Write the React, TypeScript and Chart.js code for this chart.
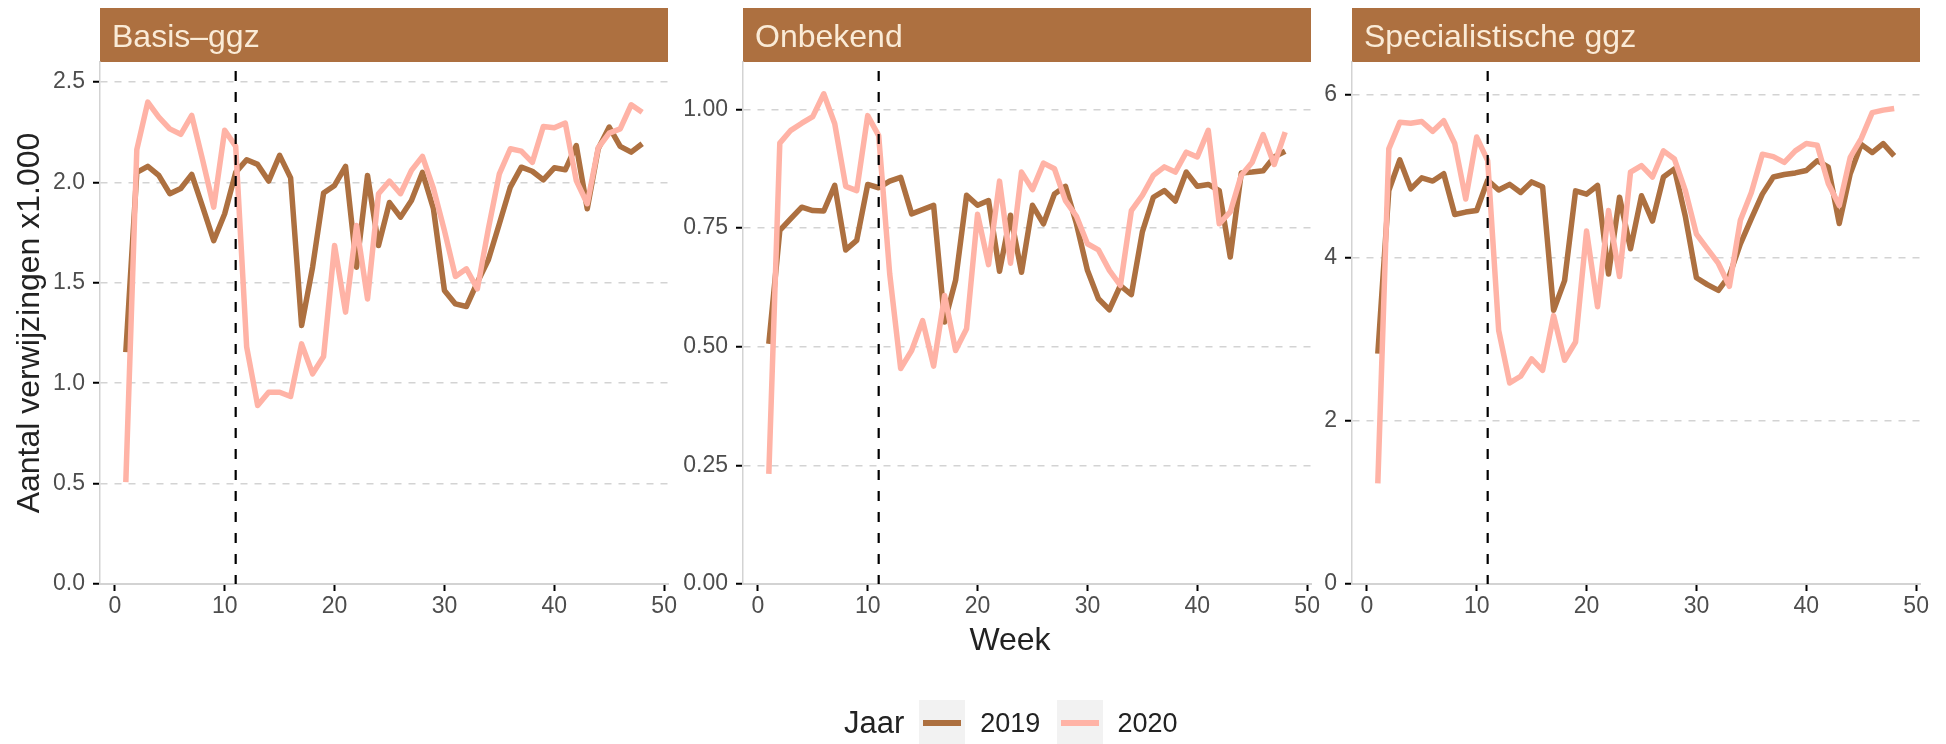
import React, { useEffect, useRef } from "react";
import { Chart, registerables } from "chart.js";

Chart.register(...registerables);

const FONT = '"Liberation Sans", Arial, Helvetica, sans-serif';
Chart.defaults.font.family = FONT;

// ---------- data ----------
const weeks = [
  1, 2, 3, 4, 5, 6, 7, 8, 9, 10, 11, 12, 13, 14, 15, 16, 17, 18, 19, 20, 21, 22, 23, 24,
  25, 26, 27, 28, 29, 30, 31, 32, 33, 34, 35, 36, 37, 38, 39, 40, 41, 42, 43, 44, 45, 46, 47, 48,
];
const years = ["2019", "2020"];
const markerWeek = 11;
const xTicks = [0, 10, 20, 30, 40, 50];

const basis2019 = [
  1.155, 2.05, 2.08, 2.035, 1.944, 1.97, 2.04, 1.877, 1.71, 1.844, 2.05, 2.113, 2.09, 2.007, 2.135, 2.023,
  1.287, 1.578, 1.947, 1.985, 2.08, 1.578, 2.035, 1.686, 1.9, 1.827, 1.91, 2.05, 1.869, 1.462, 1.395, 1.382,
  1.503, 1.615, 1.794, 1.977, 2.076, 2.056, 2.013, 2.073, 2.063, 2.184, 1.869, 2.168, 2.276, 2.18, 2.151, 2.193,
];
const basis2020 = [
  0.507, 2.163, 2.4, 2.326, 2.267, 2.24, 2.334, 2.11, 1.877, 2.26, 2.18, 1.18, 0.889, 0.955, 0.955, 0.934,
  1.196, 1.047, 1.133, 1.686, 1.354, 1.786, 1.42, 1.944, 2.007, 1.944, 2.06, 2.13, 1.97, 1.76, 1.532, 1.57,
  1.47, 1.77, 2.043, 2.168, 2.156, 2.1, 2.279, 2.272, 2.296, 2.01, 1.894, 2.173, 2.246, 2.267, 2.387, 2.35,
];
const onbekend2019 = [
  0.506, 0.745, 0.77, 0.794, 0.787, 0.786, 0.84, 0.704, 0.724, 0.842, 0.835, 0.849, 0.857, 0.78, 0.789, 0.798,
  0.552, 0.64, 0.819, 0.798, 0.808, 0.659, 0.777, 0.657, 0.798, 0.759, 0.822, 0.838, 0.759, 0.661, 0.601, 0.578,
  0.629, 0.61, 0.742, 0.815, 0.829, 0.807, 0.868, 0.838, 0.842, 0.829, 0.689, 0.866, 0.868, 0.871, 0.9, 0.912,
];
const onbekend2020 = [
  0.232, 0.929, 0.956, 0.971, 0.985, 1.033, 0.97, 0.838, 0.829, 0.987, 0.945, 0.654, 0.454, 0.492, 0.555, 0.459,
  0.608, 0.492, 0.538, 0.779, 0.673, 0.849, 0.676, 0.868, 0.831, 0.887, 0.875, 0.808, 0.775, 0.717, 0.704, 0.661,
  0.629, 0.787, 0.819, 0.861, 0.879, 0.868, 0.91, 0.9, 0.956, 0.759, 0.784, 0.861, 0.889, 0.947, 0.884, 0.952,
];
const spec2019 = [
  2.824, 4.824, 5.2, 4.845, 4.98, 4.94, 5.03, 4.53, 4.56, 4.58, 4.95, 4.83, 4.9, 4.8, 4.93, 4.87,
  3.355, 3.72, 4.82, 4.78, 4.886, 3.8, 4.743, 4.11, 4.76, 4.45, 4.99, 5.09, 4.5, 3.755, 3.67, 3.6,
  3.78, 4.17, 4.48, 4.78, 4.99, 5.02, 5.04, 5.07, 5.19, 5.11, 4.42, 5.03, 5.39, 5.29, 5.4, 5.25,
];
const spec2020 = [
  1.233, 5.335, 5.66, 5.65, 5.67, 5.55, 5.68, 5.4, 4.72, 5.48, 5.19, 3.11, 2.465, 2.547, 2.76, 2.62,
  3.29, 2.743, 2.967, 4.327, 3.4, 4.58, 3.77, 5.05, 5.13, 4.99, 5.31, 5.21, 4.82, 4.29, 4.11, 3.93,
  3.65, 4.46, 4.8, 5.27, 5.24, 5.17, 5.31, 5.4, 5.38, 4.91, 4.64, 5.23, 5.46, 5.78, 5.81, 5.83,
];

const basisTicks = [0, 0.5, 1, 1.5, 2, 2.5];
const onbekendTicks = [0, 0.25, 0.5, 0.75, 1];
const specTicks = [0, 2, 4, 6];

// ---------- style ----------
const BROWN = "#AD7040";
const PINK = "#FFB3A6";
const STRIP_TEXT = "#FAEBD7";
const GRID = "#D3D3D3";
const TICK_TEXT = "#4D4D4D";
const TITLE_TEXT = "#222222";

type PanelProps = {
  title: string;
  s2019: number[];
  s2020: number[];
  yTicks: number[];
  decimals: number;
  yMax: number;
  left: number;
  width: number;
  axisWidth: number;
  padRight: number;
  yTitle?: string;
};

const stripPlugin = {
  id: "strip",
  beforeDraw(chart: any, _args: any, opts: any) {
    const { ctx, chartArea } = chart;
    ctx.save();
    ctx.fillStyle = BROWN;
    ctx.fillRect(chartArea.left, 8, chartArea.right - chartArea.left, chartArea.top - 8);
    ctx.fillStyle = STRIP_TEXT;
    ctx.font = `32px ${FONT}`;
    ctx.textBaseline = "alphabetic";
    ctx.textAlign = "left";
    ctx.fillText(opts.text || "", chartArea.left + 12, 46.8);
    ctx.restore();
  },
};

const vlinePlugin = {
  id: "vline",
  afterDatasetsDraw(chart: any) {
    const { ctx, chartArea, scales } = chart;
    const x = scales.x.getPixelForValue(markerWeek);
    ctx.save();
    ctx.strokeStyle = "#000000";
    ctx.lineWidth = 2.2;
    ctx.setLineDash([10, 11]);
    ctx.lineDashOffset = 12;
    ctx.beginPath();
    ctx.moveTo(x, chartArea.top);
    ctx.lineTo(x, chartArea.bottom);
    ctx.stroke();
    ctx.restore();
  },
};

function Panel(p: PanelProps) {
  const ref = useRef<HTMLCanvasElement | null>(null);
  useEffect(() => {
    if (!ref.current) return;
    const toPts = (vals: number[]) => weeks.map((w, i) => ({ x: w, y: vals[i] }));
    const chart = new Chart(ref.current, {
      type: "line",
      data: {
        datasets: [
          {
            label: years[0],
            data: toPts(p.s2019),
            borderColor: BROWN,
            backgroundColor: BROWN,
            borderWidth: 5.5,
            pointRadius: 0,
            tension: 0,
            borderJoinStyle: "round",
            order: 1,
          },
          {
            label: years[1],
            data: toPts(p.s2020),
            borderColor: PINK,
            backgroundColor: PINK,
            borderWidth: 5.5,
            pointRadius: 0,
            tension: 0,
            borderJoinStyle: "round",
            order: 0,
          },
        ],
      },
      options: {
        responsive: false,
        animation: false,
        devicePixelRatio: 1,
        events: [],
        layout: { padding: { top: 62, right: p.padRight, bottom: 0, left: 0 } },
        plugins: {
          legend: { display: false },
          tooltip: { enabled: false },
          strip: { text: p.title },
        } as any,
        scales: {
          x: {
            type: "linear",
            min: -1.35,
            max: 50.35,
            afterBuildTicks: (s: any) => {
              s.ticks = xTicks.map((v) => ({ value: v }));
            },
            afterFit: (s: any) => {
              s.height = 160;
            },
            grid: {
              drawOnChartArea: false,
              drawTicks: true,
              tickLength: 7,
              tickWidth: 2,
              tickColor: "#000000",
              color: "#000000",
            },
            border: { display: true, color: GRID, width: 2 },
            ticks: {
              color: TICK_TEXT,
              font: { size: 23 },
              padding: 2,
              maxRotation: 0,
              autoSkip: false,
              callback: (v: any) => String(v),
            },
          },
          y: {
            type: "linear",
            min: 0,
            max: p.yMax,
            afterBuildTicks: (s: any) => {
              s.ticks = p.yTicks.map((v) => ({ value: v }));
            },
            afterFit: (s: any) => {
              s.width = p.axisWidth;
            },
            grid: {
              color: GRID,
              lineWidth: 1.5,
              drawTicks: true,
              tickLength: 7,
              tickWidth: 2,
              tickColor: "#000000",
              tickBorderDash: [],
            } as any,
            border: { display: true, color: GRID, width: 1.5, dash: [7, 7] },
            ticks: {
              color: TICK_TEXT,
              font: { size: 23 },
              padding: 8,
              autoSkip: false,
              callback: (v: any) => Number(v).toFixed(p.decimals),
            },
            title: {
              display: !!p.yTitle,
              text: p.yTitle || "",
              color: TITLE_TEXT,
              font: { size: 32 },
              padding: { top: 11, bottom: 0 },
            },
          },
        },
      } as any,
      plugins: [stripPlugin, vlinePlugin],
    });
    return () => chart.destroy();
  }, []);
  return (
    <canvas
      ref={ref}
      width={p.width}
      height={744}
      style={{ position: "absolute", left: p.left, top: 0, width: p.width, height: 744 }}
    />
  );
}

function LegendKey({ color }: { color: string }) {
  return (
    <div
      style={{
        width: 46,
        height: 46,
        background: "#F2F2F2",
        display: "flex",
        alignItems: "center",
        justifyContent: "center",
      }}
    >
      <div style={{ width: 38, height: 6, background: color }} />
    </div>
  );
}

export default function App() {
  return (
    <div
      style={{
        position: "absolute",
        left: 0,
        top: 0,
        width: 1946,
        height: 744,
        background: "#FFFFFF",
        overflow: "hidden",
        fontFamily: FONT,
      }}
    >
      <Panel
        title="Basis–ggz"
        s2019={basis2019}
        s2020={basis2020}
        yTicks={basisTicks}
        decimals={1}
        yMax={2.6}
        left={0}
        width={680}
        axisWidth={100}
        padRight={12}
        yTitle="Aantal verwijzingen x1.000"
      />
      <Panel
        title="Onbekend"
        s2019={onbekend2019}
        s2020={onbekend2020}
        yTicks={onbekendTicks}
        decimals={2}
        yMax={1.1}
        left={680}
        width={644}
        axisWidth={63}
        padRight={13}
      />
      <Panel
        title="Specialistische ggz"
        s2019={spec2019}
        s2020={spec2020}
        yTicks={specTicks}
        decimals={0}
        yMax={6.4}
        left={1324}
        width={622}
        axisWidth={28}
        padRight={26}
      />
      <div
        style={{
          position: "absolute",
          left: 910,
          width: 200,
          top: 623,
          textAlign: "center",
          fontSize: 32,
          lineHeight: "32px",
          color: TITLE_TEXT,
        }}
      >
        Week
      </div>
      <div
        style={{
          position: "absolute",
          left: 844,
          top: 700,
          height: 46,
          display: "flex",
          alignItems: "center",
          color: TITLE_TEXT,
        }}
      >
        <span style={{ fontSize: 31, marginRight: 15 }}>Jaar</span>
        <LegendKey color={BROWN} />
        <span style={{ fontSize: 27, marginLeft: 15, marginRight: 17 }}>{years[0]}</span>
        <LegendKey color={PINK} />
        <span style={{ fontSize: 27, marginLeft: 14 }}>{years[1]}</span>
      </div>
    </div>
  );
}
